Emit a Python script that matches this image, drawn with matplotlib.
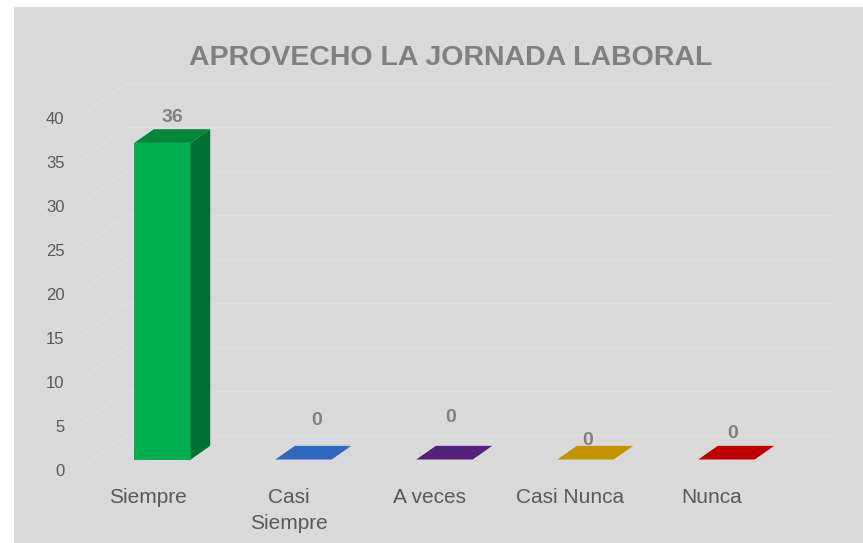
import matplotlib.pyplot as plt
from matplotlib.patches import Polygon, Rectangle

categories = ['Siempre', 'Casi\nSiempre', 'A veces', 'Casi Nunca', 'Nunca']
values = [36, 0, 0, 0, 0]
yticks = [0, 5, 10, 15, 20, 25, 30, 35, 40]
title = 'APROVECHO LA JORNADA LABORAL'

colors = ['#00b050', '#2f68c0', '#55207a', '#c49400', '#c00000']
top_colors = ['#00873a', '#2f68c0', '#55207a', '#c49400', '#c00000']
side_colors = ['#007033', '#24529a', '#431860', '#9c7600', '#990000']
# label offsets in pixels (dx, dy) from the centre of the bar top
lab_off = [(0, 19), (3, 32), (-4, 35), (-8, 12), (-4, 19)]

# depth of the 3d box in data units
DX = 50 / 141.0
DY = 35 / 8.8
f0, f1 = 0.30, 0.69
half = 0.2

def proj(x, v, f):
    return (x + f * DX, v + f * DY)

fig = plt.figure(figsize=(8.63, 5.43), dpi=100, facecolor='white')
fig.patches.append(Rectangle((14 / 863, 0), 1, 536 / 543, transform=fig.transFigure,
                             facecolor='#d9d9d9', edgecolor='none', zorder=-10))

ax = fig.add_axes([77 / 863, 73 / 543, 755 / 863, 387 / 543])
ax.set_xlim(0, len(categories) + DX)
ax.set_ylim(0, 44)
ax.patch.set_visible(False)
for s in ax.spines.values():
    s.set_visible(False)

gcol = '#dfdfdf'
for v in yticks:
    ax.plot([0, DX], [v, v + DY], color=gcol, lw=0.9, zorder=1)
    ax.plot([DX, len(categories) + DX], [v + DY, v + DY], color=gcol, lw=0.9, zorder=1)

for i, v in enumerate(values):
    x0 = i + 0.5 - half
    x1 = i + 0.5 + half
    if v > 0:
        front = [proj(x0, 0, f0), proj(x1, 0, f0), proj(x1, v, f0), proj(x0, v, f0)]
        side = [proj(x1, 0, f0), proj(x1, 0, f1), proj(x1, v, f1), proj(x1, v, f0)]
        ax.add_patch(Polygon(front, closed=True, facecolor=colors[i], edgecolor='none', zorder=3))
        ax.add_patch(Polygon(side, closed=True, facecolor=side_colors[i], edgecolor='none', zorder=3))
    top = [proj(x0, v, f0), proj(x1, v, f0), proj(x1, v, f1), proj(x0, v, f1)]
    ax.add_patch(Polygon(top, closed=True, facecolor=top_colors[i], edgecolor='none', zorder=3))
    cx, cy = proj(i + 0.5, v, (f0 + f1) / 2)
    ax.annotate(str(v), (cx, cy), xytext=(lab_off[i][0] * 0.72, lab_off[i][1] * 0.72),
                textcoords='offset points', ha='center', va='center',
                fontsize=14, fontweight='bold', color='#808080',
                family='Liberation Sans', zorder=5)

ax.set_yticks(yticks)
ax.set_yticklabels([str(t) for t in yticks], family='Liberation Sans', fontsize=12, color='#595959')
ax.tick_params(axis='y', length=0, pad=9)
ax.set_xticks([i + 0.5 for i in range(len(categories))])
ax.set_xticklabels(categories, family='Liberation Sans', fontsize=15, color='#595959',
                   linespacing=1.45)
ax.tick_params(axis='x', length=0, pad=13)

fig.text(451 / 863, 1 - 58 / 543, title, ha='center', va='center', fontsize=20.5,
         fontweight='bold', color='#808080', family='Liberation Sans')

plt.savefig('out.png', dpi=100)
